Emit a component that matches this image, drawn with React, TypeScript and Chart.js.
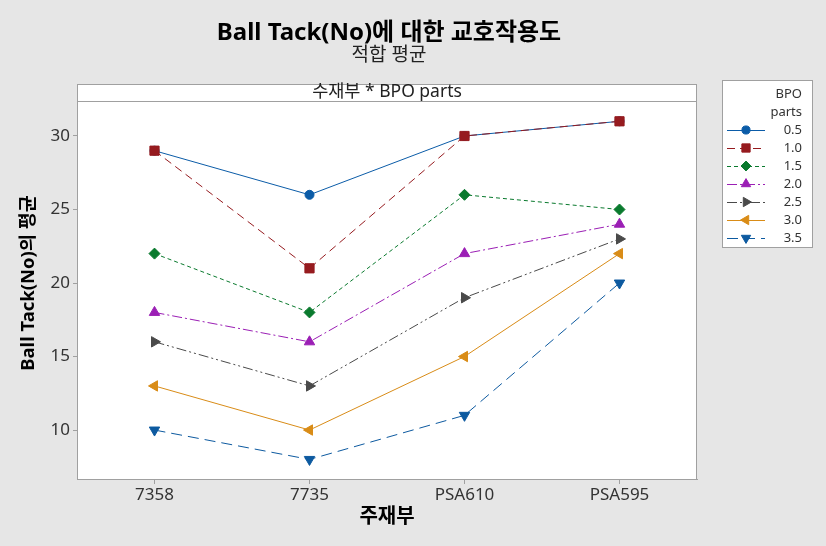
import React, { useEffect, useRef } from "react";
import { Chart, registerables } from "chart.js";
import { drawPoint } from "chart.js/helpers";

Chart.register(...registerables);

const categories = ["7358", "7735", "PSA610", "PSA595"];
const seriesLabels = ["0.5", "1.0", "1.5", "2.0", "2.5", "3.0", "3.5"];
const s05 = [29, 26, 30, 31];
const s10 = [29, 21, 30, 31];
const s15 = [22, 18, 26, 25];
const s20 = [18, 16, 22, 24];
const s25 = [16, 13, 19, 23];
const s30 = [13, 10, 15, 22];
const s35 = [10, 8, 11, 20];
const yTicks = [10, 15, 20, 25, 30];

const titleText = "Ball Tack(No)에 대한 교호작용도";
const subtitleText = "적합 평균";
const stripText = "수재부 * BPO parts";
const yTitle = "Ball Tack(No)의 평균";
const xTitle = "주재부";
const legendTitle = ["BPO", "parts"];

const FONT = "'Noto Sans', 'Noto Sans CJK KR', sans-serif";

const styles = [
  { color: "#0b5ca8", point: "circle", rot: 0, r: 4.5, dash: [] as number[] },
  { color: "#961b1f", point: "rect", rot: 0, r: 6.5, dash: [8, 5] },
  { color: "#0a7a2e", point: "rectRot", rot: 0, r: 5.5, dash: [4, 3] },
  { color: "#9b1fb5", point: "triangle", rot: 0, r: 6, dash: [10, 3, 2, 3] },
  { color: "#4a4a4a", point: "triangle", rot: 90, r: 6, dash: [10, 3, 2, 3, 2, 3] },
  { color: "#d98c17", point: "triangle", rot: 270, r: 6, dash: [] as number[] },
  { color: "#0d5aa0", point: "triangle", rot: 180, r: 6, dash: [11, 6] },
];

const seriesData = [s05, s10, s15, s20, s25, s30, s35];

export default function App() {
  const ref = useRef<HTMLCanvasElement | null>(null);
  useEffect(() => {
    if (!ref.current) return;
    const decor = {
      id: "decor",
      beforeDraw(chart: any) {
        const { ctx, chartArea: a } = chart;
        ctx.save();
        ctx.fillStyle = "#e6e6e6";
        ctx.fillRect(0, 0, chart.width, chart.height);
        ctx.fillStyle = "#ffffff";
        ctx.fillRect(a.left, 84, a.right - a.left, a.bottom - 84);
        ctx.restore();
      },
      afterDraw(chart: any) {
        const { ctx, chartArea: a } = chart;
        ctx.save();
        ctx.strokeStyle = "#a0a0a0";
        ctx.lineWidth = 1;
        ctx.strokeRect(a.left + 0.5, 84.5, a.right - a.left - 1, a.bottom - 84);
        ctx.beginPath();
        ctx.moveTo(a.left, 101.5);
        ctx.lineTo(a.right, 101.5);
        ctx.stroke();
        ctx.fillStyle = "#222";
        ctx.font = `17.5px ${FONT}`;
        ctx.textAlign = "center";
        ctx.textBaseline = "middle";
        ctx.fillText(stripText, (a.left + a.right) / 2, 92);
        ctx.fillStyle = "#000";
        ctx.font = `bold 24px ${FONT}`;
        ctx.fillText(titleText, 389, 33);
        ctx.fillStyle = "#222";
        ctx.font = `19px ${FONT}`;
        ctx.fillText(subtitleText, 389, 56);
        ctx.fillStyle = "#000";
        ctx.font = `bold 20px ${FONT}`;
        ctx.fillText(xTitle, (a.left + a.right) / 2, 517);
        ctx.save();
        ctx.translate(29, 283);
        ctx.rotate(-Math.PI / 2);
        ctx.font = `bold 18.5px ${FONT}`;
        ctx.fillText(yTitle, 0, 0);
        ctx.restore();
        ctx.fillStyle = "#ffffff";
        ctx.fillRect(722, 80, 90, 167);
        ctx.strokeStyle = "#a0a0a0";
        ctx.strokeRect(722.5, 80.5, 90, 167);
        ctx.fillStyle = "#333";
        ctx.font = `13px ${FONT}`;
        ctx.textAlign = "right";
        ctx.fillText(legendTitle[0], 802, 94);
        ctx.fillText(legendTitle[1], 802, 112);
        styles.forEach((s, i) => {
          const y = 130 + i * 18;
          ctx.save();
          ctx.strokeStyle = s.color;
          ctx.lineWidth = 1;
          ctx.setLineDash(s.dash);
          ctx.beginPath();
          ctx.moveTo(727, y + 0.5);
          ctx.lineTo(765, y + 0.5);
          ctx.stroke();
          ctx.setLineDash([]);
          ctx.fillStyle = s.color;
          ctx.strokeStyle = s.color;
          drawPoint(ctx, { pointStyle: s.point, rotation: s.rot, radius: s.r * 0.9, borderWidth: 1 } as any, 746, y);
          ctx.restore();
          ctx.fillStyle = "#333";
          ctx.fillText(seriesLabels[i], 802, y);
        });
        ctx.restore();
      },
    };
    const chart = new Chart(ref.current, {
      type: "line",
      data: {
        labels: categories,
        datasets: seriesData.map((d, i) => ({
          label: seriesLabels[i],
          data: d,
          order: seriesData.length - i,
          borderColor: styles[i].color,
          backgroundColor: styles[i].color,
          borderWidth: 1,
          borderDash: styles[i].dash,
          pointStyle: styles[i].point as any,
          pointRotation: styles[i].rot,
          pointRadius: styles[i].r,
          pointBackgroundColor: styles[i].color,
          pointBorderColor: styles[i].color,
          pointBorderWidth: 1,
          tension: 0,
          fill: false,
        })),
      },
      options: {
        responsive: false,
        animation: false,
        layout: { padding: { top: 101, right: 129, left: 0, bottom: 0 } },
        plugins: { legend: { display: false }, tooltip: { enabled: false }, title: { display: false } },
        scales: {
          x: {
            type: "category",
            offset: true,
            afterFit: (s: any) => { s.height = 67; },
            grid: { drawOnChartArea: false, tickLength: 5, color: "#a0a0a0", offset: false },
            border: { display: true, color: "#a0a0a0" },
            ticks: { color: "#333", font: { family: FONT, size: 17 }, padding: 1 },
          },
          y: {
            type: "linear",
            min: 6.67,
            max: 32.38,
            afterFit: (s: any) => { s.width = 77; },
            afterBuildTicks: (s: any) => { s.ticks = yTicks.map((v) => ({ value: v })); },
            grid: { drawOnChartArea: false, tickLength: 4, color: "#a0a0a0" },
            border: { display: true, color: "#a0a0a0" },
            ticks: { color: "#333", font: { family: FONT, size: 17 }, padding: 3 },
          },
        },
      },
      plugins: [decor],
    });
    return () => chart.destroy();
  }, []);
  return (
    <div style={{ position: "fixed", left: 0, top: 0, width: 826, height: 546 }}>
      <canvas ref={ref} width={826} height={546} />
    </div>
  );
}
